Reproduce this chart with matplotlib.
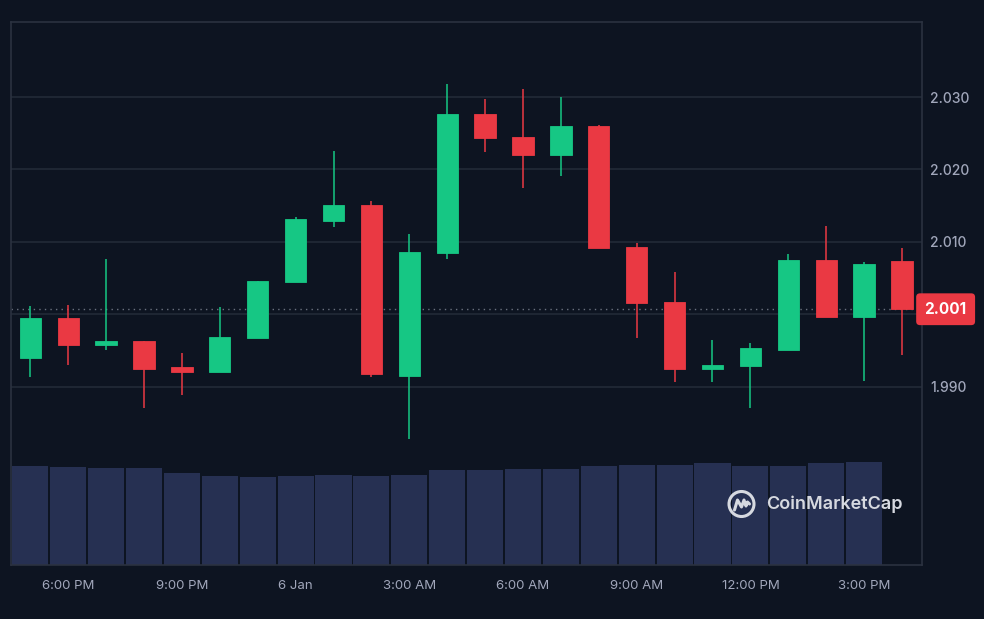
import numpy as np
import matplotlib
matplotlib.use("Agg")
import matplotlib.pyplot as plt
from matplotlib.patches import Circle
import matplotlib.transforms as mtransforms

plt.rcParams['font.family'] = ['Inter', 'DejaVu Sans']

# -----------------------------
# hourly candles
# -----------------------------
opens  = [1.9939, 1.9995, 1.9957, 1.9963, 1.9927, 1.9920, 1.9967, 2.0045,
          2.0129, 2.0151, 1.9915, 2.0084, 2.0276, 2.0245, 2.0220, 2.0260,
          2.0093, 2.0017, 1.9925, 1.9929, 1.9951, 2.0075, 1.9996, 2.0074]
highs  = [2.0011, 2.0013, 2.0077, 1.9963, 1.9946, 2.0010, 2.0046, 2.0134,
          2.0226, 2.0157, 2.0111, 2.0318, 2.0298, 2.0311, 2.0300, 2.0262,
          2.0098, 2.0058, 1.9965, 1.9960, 2.0083, 2.0122, 2.0072, 2.0091]
lows   = [1.9913, 1.9930, 1.9950, 1.9870, 1.9889, 1.9920, 1.9967, 2.0045,
          2.0121, 1.9913, 1.9828, 2.0077, 2.0224, 2.0175, 2.0191, 2.0091,
          1.9967, 1.9907, 1.9907, 1.9870, 1.9950, 1.9996, 1.9908, 1.9944]
closes = [1.9995, 1.9957, 1.9963, 1.9925, 1.9920, 1.9969, 2.0046, 2.0131,
          2.0151, 1.9917, 2.0086, 2.0276, 2.0243, 2.0220, 2.0260, 2.0091,
          2.0015, 1.9924, 1.9930, 1.9953, 2.0075, 1.9996, 2.0070, 2.0007]
# volume (relative units), last hour has no bar yet
volumes = [99, 98, 96.7, 96.7, 91.7, 89, 88, 89, 90.3, 89, 90.3, 95,
           95, 96.3, 96.3, 99, 100.3, 100.3, 101.7, 99, 99, 101.7, 103]

tick_pos    = [1, 4, 7, 10, 13, 16, 19, 22]
tick_labels = ["6:00 PM", "9:00 PM", "6 Jan", "3:00 AM",
               "6:00 AM", "9:00 AM", "12:00 PM", "3:00 PM"]
price_ticks = [1.990, 2.000, 2.010, 2.020, 2.030]
last_price_label = "2.001"

# colours
bg    = "#0d1421"
grid  = "#222a37"
frame = "#2b3240"
green = "#16c784"
red   = "#ea3943"
vol_c = "#263052"
txt   = "#a1a7bb"

W, H = 984, 619
fig = plt.figure(figsize=(W / 100, H / 100), dpi=100, facecolor=bg)

# plot area in pixels
L, R, T, B = 11, 921.5, 22, 565
ax_vol = fig.add_axes([L / W, (H - B) / H, (R - L) / W, (B - T) / H])
ax = fig.add_axes([L / W, (H - B) / H, (R - L) / W, (B - T) / H], sharex=ax_vol)
ax_vol.set_facecolor(bg)
ax.patch.set_visible(False)

n = len(opens)
x = np.arange(n)
step = 37.9
ax.set_xlim(-(30.3 - L) / step, (R - 30.3) / step)

# -----------------------------
# volume
# -----------------------------
ax_vol.bar(x[:len(volumes)], volumes, width=0.95, color=vol_c, edgecolor="none")
ax_vol.set_ylim(0, B - T)
ax_vol.set_yticks([])
for s in ax_vol.spines.values():
    s.set_visible(False)
ax_vol.tick_params(axis="x", length=0, labelbottom=False)

# -----------------------------
# candles
# -----------------------------
o = np.array(opens); c = np.array(closes)
hi = np.array(highs); lo = np.array(lows)
cols = [green if cc >= oo else red for oo, cc in zip(o, c)]
ax.vlines(x, lo, hi, colors=cols, lw=1.1, zorder=3)
ax.bar(x, np.abs(c - o), bottom=np.minimum(o, c), width=0.56,
       color=cols, edgecolor=cols, lw=0.6, zorder=4)

ax.set_ylim(2.0 - (B - 314.3) / 7240, 2.0 + (314.3 - T) / 7240)
ax.set_yticks(price_ticks)
ax.set_yticklabels([f"{p:.3f}" if abs(p - 2.0) > 1e-9 else "" for p in price_ticks],
                   fontweight="medium")
ax.yaxis.tick_right()
ax.grid(axis="y", color=grid, lw=1.2)
ax.set_axisbelow(True)
ax.tick_params(axis="y", length=0, pad=6, labelsize=10, labelcolor=txt)

ax.set_xticks(tick_pos)
ax.set_xticklabels(tick_labels)
ax.tick_params(axis="x", length=0, pad=11, labelsize=9.5, labelcolor=txt)

for s in ax.spines.values():
    s.set_color(frame)
    s.set_linewidth(1.2)

# last price line + tag
ax.axhline(closes[-1], color="#6b7280", ls=(0, (1, 3)), lw=1, zorder=2)
trans = mtransforms.blended_transform_factory(ax.transAxes, ax.transData)
ax.text(1.0265, closes[-1], last_price_label, transform=trans, ha="center",
        va="center", color="white", fontsize=11, fontweight="bold",
        bbox=dict(boxstyle="round,pad=0.55,rounding_size=0.25", fc=red, ec="none"),
        clip_on=False, zorder=6)

# -----------------------------
# watermark
# -----------------------------
logo_c = "#d6d9e0"
cx, cy = 741.5 / W, (H - 504) / H
fig.add_artist(Circle((cx * W, cy * H), 12.5, transform=None, fill=False,
                      ec=logo_c, lw=2.2, zorder=7))
mx = np.array([-7, -4, 0, 2.5, 4.5, 6, 8]) + cx * W
my = np.array([-6, 4, -3, 4, -2, 2, 0]) + cy * H
fig.add_artist(plt.Line2D(mx, my, transform=None, color=logo_c, lw=2.2,
                          solid_capstyle="round", solid_joinstyle="round", zorder=7))
fig.text(766 / W, cy, "CoinMarketCap", color=logo_c, fontsize=13,
         fontweight="semibold", ha="left", va="center", zorder=7)

fig.savefig("out.png", dpi=100, facecolor=bg)
